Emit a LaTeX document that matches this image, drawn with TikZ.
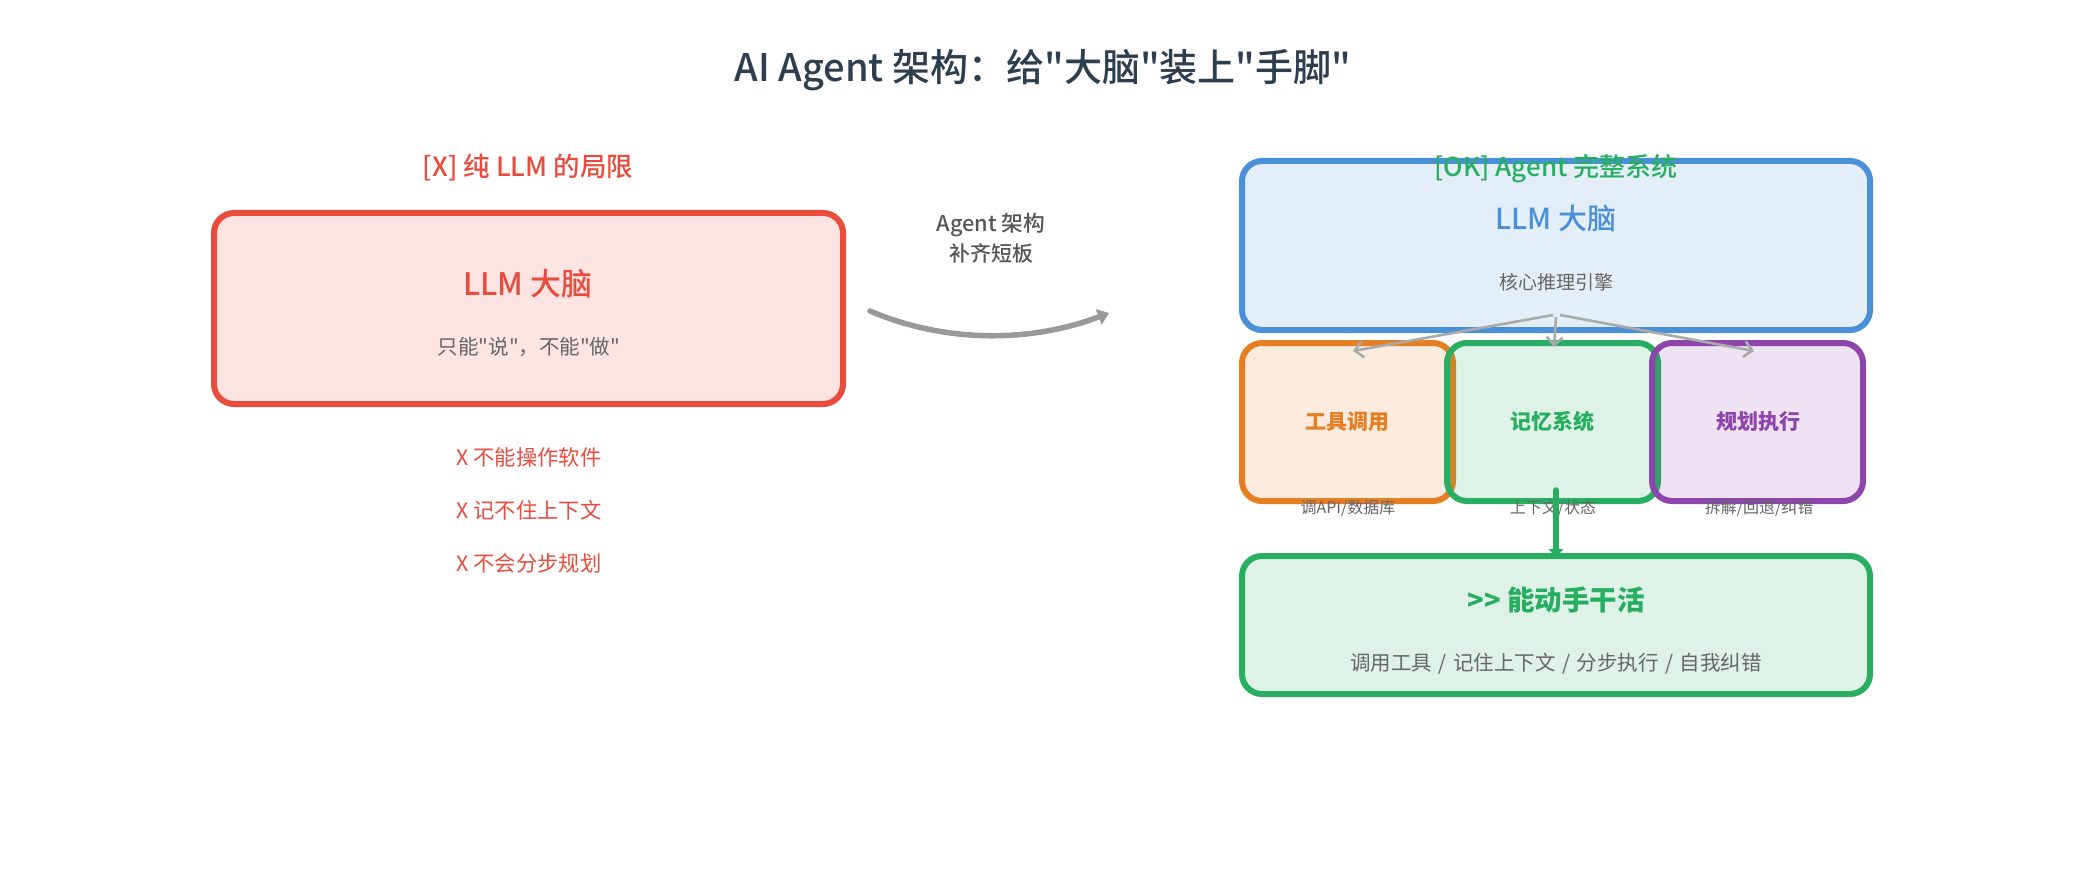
\documentclass[tikz,border=0pt]{standalone}
\usepackage{fontspec}
\setmainfont{Noto Sans CJK SC}[Ligatures=TeXOff,BoldFont={Noto Sans CJK SC Medium}]
\newfontfamily\hv{Noto Sans CJK SC}[Ligatures=TeXOff]
\usetikzlibrary{arrows.meta}
\definecolor{cred}{HTML}{E74C3C}
\definecolor{cblue}{HTML}{4A90D9}
\definecolor{corange}{HTML}{E67E22}
\definecolor{cgreen}{HTML}{27AE60}
\definecolor{cpurple}{HTML}{8E44AD}
\definecolor{ctitle}{HTML}{2C3E50}
\definecolor{csub}{HTML}{666666}
\definecolor{clabel}{HTML}{555555}
\definecolor{cthick}{HTML}{999999}
\definecolor{cthin}{HTML}{AAAAAA}
\newcommand{\fs}[1]{\fontsize{#1pt}{#1pt}\selectfont}
\newcommand{\sep}{\hspace*{6.5pt}/\hspace*{6.5pt}}
\tikzset{
  panel/.style={draw=#1,fill=#1,fill opacity=.15,line width=6pt,rounded corners=20pt,inner sep=0pt,outer sep=0pt,anchor=north west},
  txt/.style={inner sep=0pt,anchor=base,align=center},
  thinarrow/.style={draw=cthin,line width=2.6pt,-{Straight Barb[length=8pt,width=16pt,line width=2.6pt]}},
}
\begin{document}
\begin{tikzpicture}[x=1pt,y=-1pt]
\useasboundingbox[fill=white] (0,0) rectangle (2085,885);
% panels
\node[panel=cred,minimum width=629pt,minimum height=191pt] (redbox) at (214,213) {};
\node[panel=cblue,minimum width=628pt,minimum height=169pt] (bluebox) at (1242,161) {};
\node[panel=corange,minimum width=211pt,minimum height=158pt] (toolbox) at (1242,343) {};
\node[panel=cgreen,minimum width=211pt,minimum height=158pt] (membox) at (1447,343) {};
\node[panel=cpurple,minimum width=211pt,minimum height=158pt] (planbox) at (1652,343) {};
\node[panel=cgreen,minimum width=628pt,minimum height=138pt] (resultbox) at (1242,556) {};
% text
\node[txt,text=ctitle,font=\fs{38}\bfseries] (title) at (1043,82) {AI Agent 架构：给"大脑"装上"手脚"};
\node[txt,text=cred,font=\fs{26.5}\bfseries] (lefthead) at (528,177) {[X] 纯 LLM 的局限};
\node[txt,text=cred,font=\fs{31}\bfseries] (redname) at (528,295) {LLM 大脑};
\node[txt,text=csub,font=\fs{20.5}] (redsub) at (529,354) {只能"说"，不能"做"};
\node[txt,text=cred,font=\fs{21.3}] (x1) at (529,465) {X 不能操作软件};
\node[txt,text=cred,font=\fs{21.3}] (x2) at (529,518) {X 记不住上下文};
\node[txt,text=cred,font=\fs{21.3}] (x3) at (529,571) {X 不会分步规划};
\node[txt,text=clabel,font=\fs{21.7}\bfseries] (lab1) at (991,232) {Agent 架构};
\node[txt,text=clabel,font=\fs{21}\bfseries] (lab2) at (991,262) {补齐短板};
\node[txt,text=cgreen,font=\fs{26}\bfseries] (righthead) at (1556,177) {[OK] Agent 完整系统};
\node[txt,text=cblue,font=\fs{29}\bfseries] (bluename) at (1556,230) {LLM 大脑};
\node[txt,text=csub,font=\fs{19}] (bluesub) at (1556,290) {核心推理引擎};
\node[txt,text=corange,font=\hv\fs{21}\bfseries] (tooln) at (1347,429) {工具调用};
\node[txt,text=cgreen,font=\hv\fs{21}\bfseries] (memn) at (1552,429) {记忆系统};
\node[txt,text=cpurple,font=\hv\fs{21}\bfseries] (plann) at (1758,429) {规划执行};
\node[txt,text=csub,font=\fs{16}] (tools) at (1348,513) {调API/数据库};
\node[txt,text=csub,font=\fs{16}] (mems) at (1553,513) {上下文/状态};
\node[txt,text=csub,font=\fs{16}] (plans) at (1759,513) {拆解/回退/纠错};
\node[txt,text=cgreen,font=\hv\fs{27.5}\bfseries] (resn) at (1556,610) {>{}> 能动手干活};
\node[txt,text=csub,font=\fs{20.5}] (ress) at (1556,670) {调用工具\sep 记住上下文\sep 分步执行\sep 自我纠错};
% connector ends
\coordinate (a1) at (1553,315);
\coordinate (a2) at (1556,317);
\coordinate (a3) at (1560,315);
\coordinate (t1) at (1353,351);
\coordinate (t2) at (1554,347);
\coordinate (t3) at (1754,351);
\coordinate (m1) at (870,311);
\coordinate (m2) at (1109,313);
\coordinate (g1) at (1556,490);
\coordinate (g2) at (1556,558);
% connectors
\draw[thinarrow] (a1) -- (t1);
\draw[thinarrow] (a2) -- (t2);
\draw[thinarrow] (a3) -- (t3);
\draw[draw=cthick,line width=5.5pt,line cap=round,-{Triangle[length=11pt,width=16pt]}] (m1) .. controls (945,343) and (1030,343) .. (m2);
\draw[draw=cgreen,line width=5.5pt,line cap=round,-{Triangle[length=9pt,width=14pt]}] (g1) -- (g2);
\end{tikzpicture}
\end{document}
